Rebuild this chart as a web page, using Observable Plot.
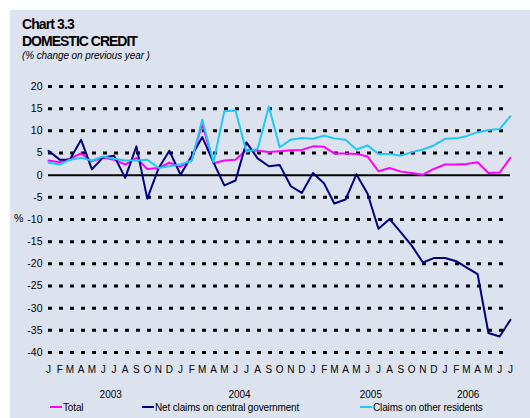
<!DOCTYPE html>
<html>
<head>
<meta charset="utf-8">
<script src="https://cdn.jsdelivr.net/npm/d3@7"></script>
<script src="https://cdn.jsdelivr.net/npm/@observablehq/plot@0.6"></script>
<style>
  body { margin: 0; }
  #wrap { position: relative; width: 530px; height: 418px; overflow: hidden; font-family: "Liberation Sans", Arial, sans-serif; color: #000; }
  #panel { position: absolute; left: 10px; top: 10px; right: 0; bottom: 0; background: #dce3ef; }
  .t { position: absolute; white-space: nowrap; }
  .leg { position: absolute; top: 402px; font-size: 10px; letter-spacing: -0.15px; white-space: nowrap; }
  .sw { display: inline-block; width: 12px; height: 2px; vertical-align: middle; margin-right: 1px; position: relative; top: -1px; }
</style>
</head>
<body>
<div id="wrap">
  <div id="panel"></div>
  <div class="t" style="left:22px;top:16px;font-size:14px;font-weight:bold;letter-spacing:-0.9px">Chart 3.3</div>
  <div class="t" style="left:22px;top:33px;font-size:14px;font-weight:bold;letter-spacing:-1px">DOMESTIC CREDIT</div>
  <div class="t" style="left:22px;top:50px;font-size:10px;font-style:italic;letter-spacing:-0.1px">(% change on previous year )</div>
  <div class="t" style="left:14px;top:212px;font-size:10.5px;letter-spacing:-0.3px">%</div>
  <div id="chart" style="position:absolute;left:0;top:70px"></div>
  <div class="leg" style="left:50px"><span class="sw" style="background:#ff00ff"></span>Total</div>
  <div class="leg" style="left:142px"><span class="sw" style="background:#000080"></span>Net claims on central government</div>
  <div class="leg" style="left:360px"><span class="sw" style="background:#1ec8f8"></span>Claims on other residents</div>
</div>
<script>
// Monthly observations, Jan 2003 – Jul 2006
const startMonth = new Date(Date.UTC(2003, 0, 1));
const endMonth = new Date(Date.UTC(2006, 6, 1));
const months = d3.utcMonth.range(startMonth, d3.utcMonth.offset(endMonth, 1));
const monthInitials = ["J","F","M","A","M","J","J","A","S","O","N","D"];

const total = [3.3,2.9,3.7,4.9,3.1,4.0,3.5,2.4,3.9,1.4,1.6,2.8,
               1.9,3.5,11.6,2.7,3.3,3.5,5.7,5.5,5.2,5.4,5.6,5.7,
               6.5,6.4,4.9,4.9,4.8,4.2,0.9,1.6,0.8,0.5,0.1,1.4,
               2.4,2.4,2.5,2.9,0.5,0.6,3.9];
const netGov = [5.5,3.5,3.5,8.0,1.3,4.0,4.4,-0.6,6.5,-5.3,1.5,5.5,
                0.1,4.4,8.6,2.9,-2.3,-1.2,7.4,3.8,2.0,2.3,-2.5,-4.0,
                0.5,-1.9,-6.4,-5.5,0.2,-4.2,-12.1,-9.9,-12.9,-15.9,-19.7,-18.7,
                -18.7,-19.4,-20.8,-22.3,-35.6,-36.4,-32.6];
const otherRes = [2.8,2.4,3.5,3.9,3.3,4.2,3.7,3.3,3.3,3.5,1.6,2.0,
                  2.4,3.3,12.5,2.9,14.4,14.6,5.3,5.9,15.5,6.3,8.0,8.4,
                  8.2,8.9,8.3,8.0,5.8,6.7,4.8,4.8,4.4,5.2,5.8,6.7,
                  8.2,8.3,8.8,9.7,10.2,10.4,13.3];

const yTicks = [20,15,10,5,0,-5,-10,-15,-20,-25,-30,-35,-40];
const years = ["2003","2004","2005","2006"];
const yearAnchors = ["2003-06-22","2004-06-12","2005-06-10","2006-03-06"];

const series = [
  {name: "Total", values: total, color: "#ff00ff"},
  {name: "Net claims on central government", values: netGov, color: "#000080"},
  {name: "Claims on other residents", values: otherRes, color: "#1ec8f8"}
];
const rows = series.flatMap(s => s.values.map((v, i) => ({date: months[i], value: v, name: s.name})));
const yearRows = years.map((y, i) => ({year: y, date: new Date(yearAnchors[i])}));
const gridEnd = new Date(Date.UTC(2006, 5, 15));

const chart = Plot.plot({
  width: 530,
  height: 335,
  marginLeft: 48,
  marginRight: 20,
  marginTop: 16,
  marginBottom: 53,
  style: {background: "transparent", fontFamily: "'Liberation Sans', Arial, sans-serif", fontSize: "10px", color: "#000", overflow: "visible"},
  x: {type: "utc", domain: [startMonth, endMonth], axis: null},
  y: {domain: [-40, 20], axis: null},
  color: {domain: series.map(s => s.name), range: series.map(s => s.color)},
  marks: [
    Plot.ruleY(yTicks.filter(d => d !== 0), {y: d => d, x1: () => startMonth, x2: () => gridEnd, stroke: "#000", strokeWidth: 3, strokeDasharray: "4,7"}),
    Plot.ruleY([0], {y: d => d, x1: () => startMonth, x2: () => endMonth, stroke: "#000", strokeWidth: 2}),
    Plot.axisY(yTicks, {label: null, tickSize: 0, tickPadding: 6, fontSize: 10.5, tickFormat: d => String(d), style: {letterSpacing: "-0.3px"}}),
    Plot.axisX(months, {label: null, tickSize: 0, tickPadding: 13, fontSize: 10, tickFormat: d => monthInitials[d.getUTCMonth()]}),
    Plot.text(yearRows, {x: "date", y: () => -40, text: "year", dy: 42, fontSize: 10, fill: "#000"}),
    Plot.line(rows, {x: "date", y: "value", z: "name", stroke: "name", strokeWidth: 2, curve: "linear"})
  ]
});
document.getElementById("chart").appendChild(chart);
</script>
</body>
</html>
